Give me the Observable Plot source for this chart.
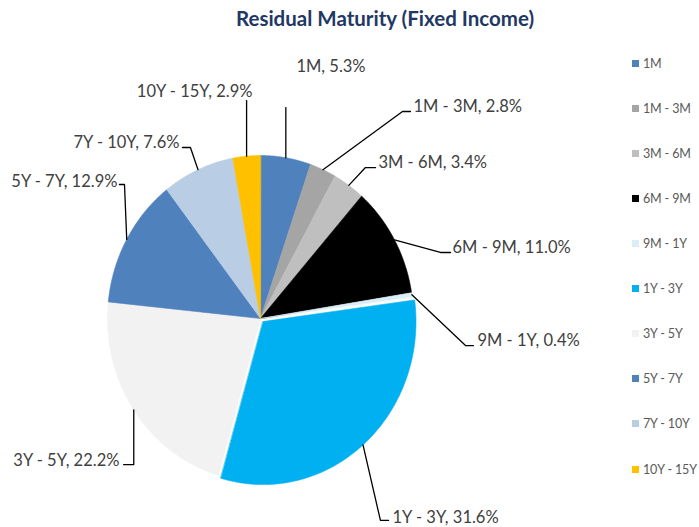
<!DOCTYPE html>
<html><head><meta charset="utf-8">
<script src="https://cdn.jsdelivr.net/npm/d3@7"></script>
<script src="https://cdn.jsdelivr.net/npm/@observablehq/plot@0.6"></script>
<style>
body{margin:0;background:#fff;}
#wrap{position:relative;width:699px;height:527px;overflow:hidden;font-family:Lato,sans-serif;}
#chart{position:absolute;left:0;top:0;}
#legend{position:absolute;left:632px;top:40.7px;}
.item{height:45.1px;display:flex;align-items:center;font-size:12.5px;letter-spacing:-0.15px;color:#595959;white-space:nowrap;}
.sw{width:7px;height:7px;margin-right:4px;flex:none;}
</style></head><body>
<div id="wrap"><div id="chart"></div><div id="legend"></div></div>
<script>
const title = "Residual Maturity (Fixed Income)";
const categories = ["1M","1M - 3M","3M - 6M","6M - 9M","9M - 1Y","1Y - 3Y","3Y - 5Y","5Y - 7Y","7Y - 10Y","10Y - 15Y"];
const shares = [5.3,2.8,3.4,11.0,0.4,31.6,22.2,12.9,7.6,2.9];
const colors = ["#4f81bd","#a5a5a5","#bfbfbf","#000000","#dbeef6","#00b0f0","#f2f2f2","#4f81bd","#b9cde5","#ffc000"];
const exploded = ["1Y - 3Y"];
// label layout, in pie radii: elbow (ex, ey), end of short horizontal (hx), text anchor (tx, ty baseline)
const labelLayout = [
  {ex:null, ey:1.294, hx:null, tx:0.235, ty:1.515, anchor:"start"},
  {ex:0.928, ey:1.270, hx:0.980, tx:1.000, ty:1.270, anchor:"start"},
  {ex:0.686, ey:0.926, hx:0.752, tx:0.771, ty:0.926, anchor:"start"},
  {ex:1.176, ey:0.405, hx:1.242, tx:1.255, ty:0.405, anchor:"start"},
  {ex:1.340, ey:-0.166, hx:1.392, tx:1.418, ty:-0.166, anchor:"start"},
  {ex:0.784, ey:-1.239, hx:0.837, tx:0.863, ty:-1.252, anchor:"start"},
  {ex:null, ey:-0.896, hx:-0.895, tx:-0.922, ty:-0.902, anchor:"end"},
  {ex:-0.889, ey:0.822, hx:-0.922, tx:-0.935, ty:0.810, anchor:"end"},
  {ex:-0.458, ey:1.049, hx:-0.510, tx:-0.529, ty:1.049, anchor:"end"},
  {ex:null, ey:1.337, hx:null, tx:-0.052, ty:1.362, anchor:"end"}
];

const arcs = d3.pie().sort(null).value(d => d)(shares);
const slicePts = [], leaderPts = [], labels = [];
arcs.forEach((a, i) => {
  const cat = categories[i];
  const mid = (a.startAngle + a.endAngle) / 2;
  const off = exploded.includes(cat) ? 0.025 : 0;
  const ox = off * Math.sin(mid), oy = off * Math.cos(mid);
  slicePts.push({cat, x: ox, y: oy});
  const n = Math.max(2, Math.ceil((a.endAngle - a.startAngle) / 0.008));
  for (let k = 0; k <= n; k++) {
    const t = a.startAngle + (a.endAngle - a.startAngle) * k / n;
    slicePts.push({cat, x: ox + Math.sin(t), y: oy + Math.cos(t)});
  }
  const L = labelLayout[i];
  const px = ox + Math.sin(mid), py = oy + Math.cos(mid);
  const exx = L.ex == null ? px : L.ex;
  leaderPts.push({cat, x: px, y: py}, {cat, x: exx, y: L.ey});
  if (L.hx != null) leaderPts.push({cat, x: L.hx, y: L.ey});
  labels.push({cat, x: L.tx, y: L.ty, anchor: L.anchor, text: `${cat}, ${shares[i].toFixed(1)}%`});
});

const textStyle = {x: "x", y: "y", text: "text", fontSize: 16.5, fill: "#404040", dy: -5};
const chart = Plot.plot({
  width: 699, height: 527,
  margin: 0,
  x: {domain: [-1, 1], range: [107, 413], axis: null},
  y: {domain: [-1, 1], range: [481, 155], axis: null},
  color: {domain: categories, range: colors},
  style: {fontFamily: "Lato, sans-serif", background: "transparent", overflow: "visible"},
  marks: [
    Plot.line(slicePts, {x: "x", y: "y", z: "cat", fill: "cat", stroke: "cat", strokeWidth: 0.6, curve: "linear-closed"}),
    Plot.line(leaderPts, {x: "x", y: "y", z: "cat", stroke: "#000", strokeWidth: 1.3, curve: "linear"}),
    Plot.text(labels.filter(d => d.anchor === "start"), {...textStyle, textAnchor: "start"}),
    Plot.text(labels.filter(d => d.anchor === "end"), {...textStyle, textAnchor: "end"}),
    Plot.text([title], {frameAnchor: "top-left", dx: 384.5, dy: 18.5, text: d => d, textAnchor: "middle", lineAnchor: "middle", fontSize: 20.5, fontWeight: "bold", fill: "#1f3864"})
  ]
});
document.getElementById("chart").appendChild(chart);

const legend = document.getElementById("legend");
categories.forEach((c, i) => {
  const item = document.createElement("div");
  item.className = "item";
  const sw = document.createElement("span");
  sw.className = "sw";
  sw.style.background = colors[i];
  item.appendChild(sw);
  item.appendChild(document.createTextNode(c));
  legend.appendChild(item);
});
</script>
</body></html>
